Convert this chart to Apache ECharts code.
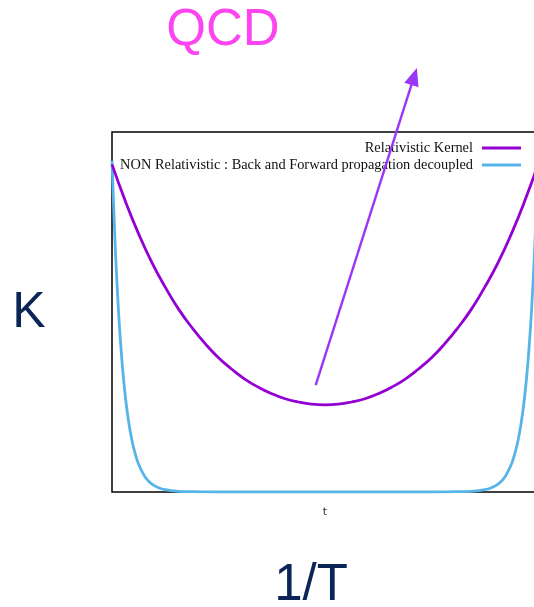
<!DOCTYPE html>
<html>
<head>
<meta charset="utf-8">
<script src="https://cdn.jsdelivr.net/npm/echarts@6/dist/echarts.min.js"></script>
<style>
  html, body { margin: 0; padding: 0; background: #fff; overflow: hidden; }
  #chart { width: 538px; height: 607px; }
</style>
</head>
<body>
<div id="chart"></div>
<script>
// Euclidean time slices (lattice extent 64)
const tRel = [0, 2, 4, 6, 8, 10, 12, 14, 16, 18, 20, 22, 24, 26, 28, 30, 32,
              34, 36, 38, 40, 42, 44, 46, 48, 50, 52, 54, 56, 58, 60, 62, 64];
// Relativistic kernel: symmetric cosh-shaped correlator
const kRel = [0.910, 0.808, 0.717, 0.637, 0.569, 0.508, 0.457, 0.412, 0.373, 0.341, 0.313, 0.291, 0.273, 0.259, 0.250, 0.244, 0.242,
              0.244, 0.250, 0.259, 0.273, 0.291, 0.313, 0.341, 0.373, 0.412, 0.457, 0.508, 0.569, 0.637, 0.717, 0.808, 0.910];

// Non-relativistic kernel: forward and backward pieces decoupled
const tNR = [0, 0.5, 1, 1.5, 2, 2.5, 3, 3.5, 4, 5, 6, 7, 8, 10, 12, 16, 24, 32,
             40, 48, 52, 54, 56, 57, 58, 59, 60, 60.5, 61, 61.5, 62, 62.5, 63, 63.5, 64];
const kNR = [0.920, 0.675, 0.495, 0.363, 0.266, 0.195, 0.143, 0.105, 0.077, 0.041, 0.022, 0.012, 0.0064, 0.002, 0.001, 0, 0, 0,
             0, 0, 0.001, 0.002, 0.0064, 0.012, 0.022, 0.041, 0.077, 0.105, 0.143, 0.195, 0.266, 0.363, 0.495, 0.675, 0.920];

// Annotation arrow (data coordinates)
const arrowFrom = [30.6, 0.297];
const arrowTo = [45.8, 1.178];

const seriesNames = ['Relativistic Kernel', 'NON Relativistic : Back and Forward propagation decoupled'];

const pairs = (xs, ys) => xs.map((x, i) => [x, ys[i]]);

const chart = echarts.init(document.getElementById('chart'), null, { renderer: 'canvas' });

const legendText = { fontFamily: 'Liberation Serif', fontSize: 14.4, color: '#111', padding: [0, 4, 0, 0] };
const bigText = (text, x, y, size, color) => ({
  type: 'text', x: x, y: y, z: 10,
  style: { text: text, fontFamily: 'Liberation Sans', fontSize: size, fill: color,
           textAlign: 'center', textVerticalAlign: 'middle' }
});

chart.setOption({
  backgroundColor: '#fff',
  animation: false,
  grid: {
    left: 112, right: 0, top: 132, bottom: 115,
    show: true, borderColor: '#000', borderWidth: 1.5, backgroundColor: 'transparent'
  },
  xAxis: {
    type: 'value', min: 0, max: 64,
    name: 't', nameLocation: 'middle', nameGap: 15,
    nameTextStyle: { fontFamily: 'DejaVu Sans', fontSize: 11, color: '#333' },
    axisLine: { show: false }, axisTick: { show: false }, axisLabel: { show: false }, splitLine: { show: false }
  },
  yAxis: {
    type: 'value', min: 0, max: 1,
    axisLine: { show: false }, axisTick: { show: false }, axisLabel: { show: false }, splitLine: { show: false }
  },
  legend: [
    {
      data: [seriesNames[0]], right: 12, top: 136, align: 'right', orient: 'vertical',
      icon: 'rect', itemWidth: 39, itemHeight: 3, textStyle: legendText
    },
    {
      data: [seriesNames[1]], right: 12, top: 153, align: 'right', orient: 'vertical',
      icon: 'rect', itemWidth: 39, itemHeight: 3, textStyle: legendText
    }
  ],
  series: [
    {
      name: seriesNames[1], type: 'line', data: pairs(tNR, kNR), smooth: 0.3,
      showSymbol: false, color: '#56b4e9', lineStyle: { width: 2.8, color: '#56b4e9' }, z: 3
    },
    {
      name: seriesNames[0], type: 'line', data: pairs(tRel, kRel), smooth: true,
      showSymbol: false, color: '#9400d3', lineStyle: { width: 2.8, color: '#9400d3' }, z: 6
    }
  ]
});

// Headline labels and the annotation arrow, placed through the grid's coordinate system
const p0 = chart.convertToPixel({ gridIndex: 0 }, arrowFrom);
const p1 = chart.convertToPixel({ gridIndex: 0 }, arrowTo);
const dx = p1[0] - p0[0], dy = p1[1] - p0[1];
const len = Math.hypot(dx, dy);
const ux = dx / len, uy = dy / len;
const headLen = 18, headHalf = 7.5;
const bx = p1[0] - ux * headLen, by = p1[1] - uy * headLen;

chart.setOption({
  graphic: [
    bigText('QCD', 223, 31, 51, '#fc45f0'),
    bigText('K', 29, 313, 50, '#0b2656'),
    bigText('1/T', 311, 586, 51, '#0b2656'),
    {
      type: 'line', z: 10,
      shape: { x1: p0[0], y1: p0[1], x2: bx + ux * 2, y2: by + uy * 2 },
      style: { stroke: '#9a36f4', lineWidth: 2.4 }
    },
    {
      type: 'polygon', z: 10,
      shape: { points: [
        [p1[0], p1[1]],
        [bx - uy * headHalf, by + ux * headHalf],
        [bx + uy * headHalf, by - ux * headHalf]
      ] },
      style: { fill: '#9a36f4' }
    }
  ]
});
</script>
</body>
</html>
